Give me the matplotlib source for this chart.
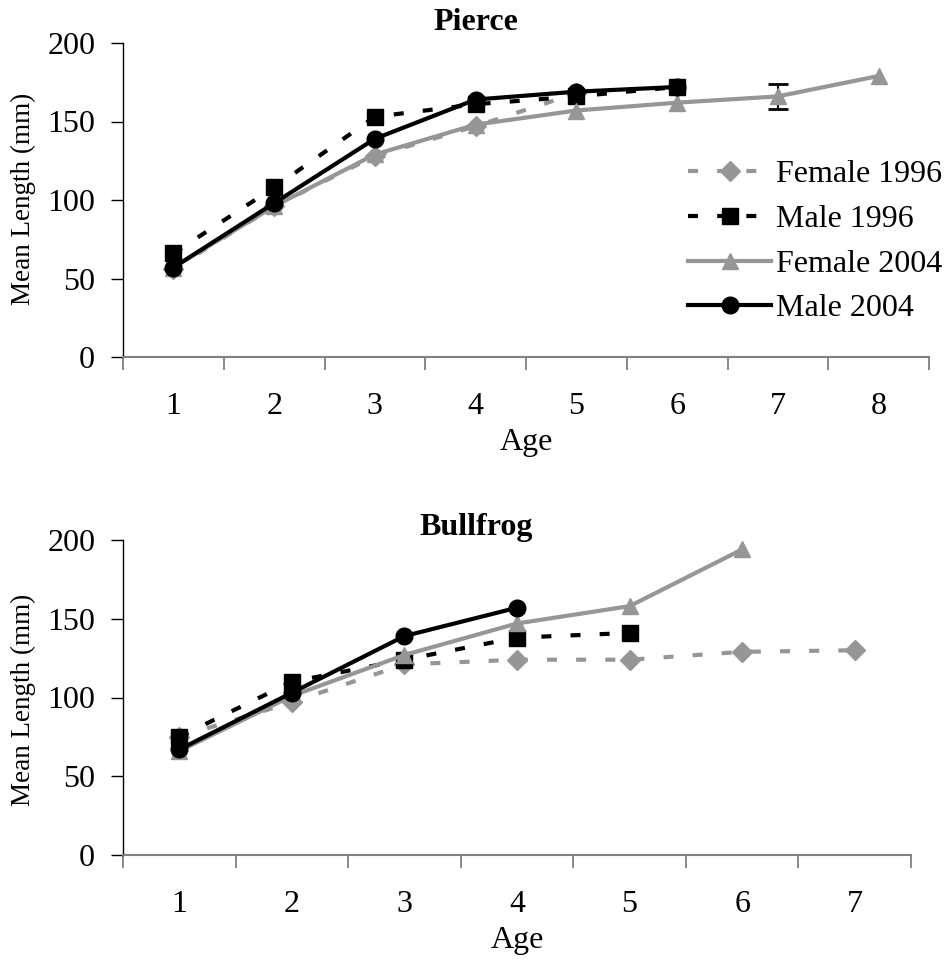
import matplotlib
matplotlib.use("Agg")
import matplotlib.pyplot as plt

# ---------------- data ----------------
series_names = ["Female 1996", "Male 1996", "Female 2004", "Male 2004"]

pierce_ages_f96 = [1, 2, 3, 4, 5]
pierce_f96 = [56, 96, 128, 147, 168]
pierce_ages_m96 = [1, 2, 3, 4, 5, 6]
pierce_m96 = [66, 108, 153, 161, 166, 172]
pierce_ages_f04 = [1, 2, 3, 4, 5, 6, 7, 8]
pierce_f04 = [57, 96, 129, 148, 157, 162, 166, 179]
pierce_ages_m04 = [1, 2, 3, 4, 5, 6]
pierce_m04 = [57, 98, 139, 164, 169, 172]
pierce_err_age = [7]
pierce_err_val = [166]
pierce_err = [8]

bull_ages_f96 = [1, 2, 3, 4, 5, 6, 7]
bull_f96 = [75, 97, 121, 124, 124, 129, 130]
bull_ages_m96 = [1, 2, 3, 4, 5]
bull_m96 = [75, 110, 124, 138, 141]
bull_ages_f04 = [1, 2, 3, 4, 5, 6]
bull_f04 = [66, 101, 127, 147, 158, 194]
bull_ages_m04 = [1, 2, 3, 4]
bull_m04 = [67, 103, 139, 157]

yticks = [0, 50, 100, 150, 200]

# ---------------- style ----------------
GRAY = "#969696"
BLACK = "#000000"
plt.rcParams["font.family"] = ["Liberation Serif", "DejaVu Serif"]
FS = 23

styles = [
    dict(color=GRAY, marker="D", ms=10.5, ls=(0, (2.4, 4.6)), lw=3.0),
    dict(color=BLACK, marker="s", ms=11.5, ls=(0, (2.4, 4.6)), lw=3.0),
    dict(color=GRAY, marker="^", ms=12, ls="-", lw=3.0),
    dict(color=BLACK, marker="o", ms=12, ls="-", lw=3.0),
]

W, H = 948, 961
fig = plt.figure(figsize=(W / 100, H / 100), dpi=100)


def px_axes(left, right, top, bottom):
    return fig.add_axes([left / W, 1 - bottom / H, (right - left) / W, (bottom - top) / H])


def style_axes(ax, nages):
    ax.set_xlim(0.5, nages + 0.5)
    ax.set_ylim(0, 200)
    ax.set_yticks(yticks)
    ax.set_yticklabels([str(v) for v in yticks], fontsize=FS)
    ax.set_xticks(range(1, nages + 1))
    ax.set_xticklabels([str(v) for v in range(1, nages + 1)], fontsize=FS)
    ax.set_xticks([i + 0.5 for i in range(0, nages + 1)], minor=True)
    ax.tick_params(axis="x", which="major", length=0, pad=25)
    ax.tick_params(axis="x", which="minor", length=9, width=1.3, color="#808080", direction="out")
    ax.tick_params(axis="y", which="major", length=9, width=1.0, color=BLACK, direction="out", pad=11)
    for s in ["top", "right"]:
        ax.spines[s].set_visible(False)
    ax.spines["left"].set_color(BLACK)
    ax.spines["left"].set_linewidth(1.0)
    ax.spines["bottom"].set_color("#808080")
    ax.spines["bottom"].set_linewidth(1.5)
    ax.set_xlabel("Age", fontsize=FS, labelpad=5)


def draw(ax, data):
    handles = []
    for (x, y), st, name in zip(data, styles, series_names):
        h, = ax.plot(x, y, color=st["color"], marker=st["marker"], markersize=st["ms"],
                     markeredgecolor=st["color"], markerfacecolor=st["color"],
                     linestyle=st["ls"], linewidth=st["lw"], label=name, clip_on=False)
        handles.append(h)
    return handles


# ---- top: Pierce ----
ax1 = px_axes(123, 929, 43, 357)
style_axes(ax1, 8)
h = draw(ax1, [(pierce_ages_f96, pierce_f96), (pierce_ages_m96, pierce_m96),
               (pierce_ages_f04, pierce_f04), (pierce_ages_m04, pierce_m04)])
ax1.errorbar(pierce_err_age, pierce_err_val, yerr=pierce_err, fmt="none",
             ecolor=BLACK, elinewidth=1.5, capsize=7, capthick=2, zorder=1)
fig.text(476 / W, 1 - 22 / H, "Pierce", fontsize=FS, fontweight="bold", ha="center", va="center")
fig.text(23 / W, 1 - 199 / H, "Mean Length (mm)", fontsize=19.5, rotation=90, ha="center", va="center")

leg = ax1.legend(handles=h, loc="upper left", bbox_to_anchor=(688 / W, 1 - 160 / H),
                 bbox_transform=fig.transFigure, frameon=False, fontsize=FS,
                 handlelength=2.6, handletextpad=0.15, labelspacing=0.48,
                 borderpad=0, borderaxespad=0)

# ---- bottom: Bullfrog ----
ax2 = px_axes(123, 911, 540, 855)
style_axes(ax2, 7)
draw(ax2, [(bull_ages_f96, bull_f96), (bull_ages_m96, bull_m96),
           (bull_ages_f04, bull_f04), (bull_ages_m04, bull_m04)])
fig.text(476 / W, 1 - 527 / H, "Bullfrog", fontsize=FS, fontweight="bold", ha="center", va="center")
fig.text(23 / W, 1 - 700 / H, "Mean Length (mm)", fontsize=19.5, rotation=90, ha="center", va="center")

fig.savefig("out.png", dpi=100)
